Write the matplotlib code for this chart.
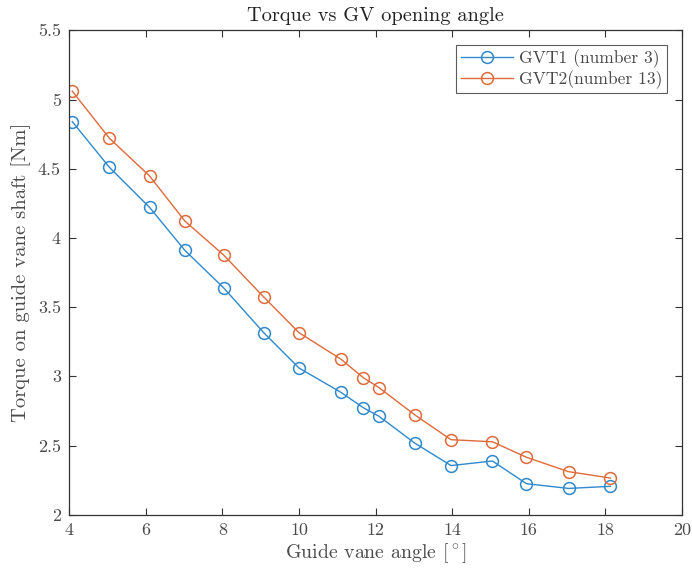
import numpy as np
import matplotlib
matplotlib.use("Agg")
import matplotlib.pyplot as plt

plt.rcParams['font.family'] = 'cmr10'
plt.rcParams['mathtext.fontset'] = 'cm'
plt.rcParams['axes.formatter.use_mathtext'] = True

# guide vane angle [deg] and shaft torque [Nm]
angle = [4.08, 5.05, 6.1, 7.02, 8.03, 9.08, 10.0, 11.09, 11.68, 12.09,
         13.03, 13.97, 15.05, 15.94, 17.04, 18.13]
torque_gvt1 = [4.84, 4.51, 4.22, 3.91, 3.64, 3.315, 3.06, 2.885, 2.773, 2.711,
               2.516, 2.355, 2.388, 2.224, 2.19, 2.205]
torque_gvt2 = [5.06, 4.72, 4.447, 4.122, 3.877, 3.573, 3.315, 3.125, 2.99, 2.918,
               2.72, 2.542, 2.527, 2.415, 2.311, 2.265]

xticks = [4, 6, 8, 10, 12, 14, 16, 18, 20]
yticks = [2, 2.5, 3, 3.5, 4, 4.5, 5, 5.5]
ytick_labels = ['2', '2.5', '3', '3.5', '4', '4.5', '5', '5.5']

blue = '#2f89cc'
orange = '#df6a3a'
dark = '#333333'
grey = '#4a4a4a'

fig = plt.figure(figsize=(6.92, 5.74), dpi=100)
ax = fig.add_axes([0.1, 0.1033, 0.8855, 0.8439])

ax.plot(angle, torque_gvt1, '-o', color=blue, lw=1.0, ms=8.5,
        mfc='none', mew=1.1, label='GVT1 (number 3)')
ax.plot(angle, torque_gvt2, '-o', color=orange, lw=1.0, ms=8.5,
        mfc='none', mew=1.1, label='GVT2(number 13)')

ax.set_xlim(4, 20)
ax.set_ylim(2, 5.5)
ax.set_xticks(xticks)
ax.set_xticklabels([str(t) for t in xticks])
ax.set_yticks(yticks)
ax.set_yticklabels(ytick_labels)

ax.tick_params(direction='in', length=5, width=0.8, top=True, right=True,
               labelsize=13, colors=dark, labelcolor=grey, pad=6)
for s in ax.spines.values():
    s.set_color(dark)
    s.set_linewidth(0.9)

ax.set_title('Torque vs GV opening angle', fontsize=14.7, color='#222222', pad=7)
ax.set_xlabel(r'Guide vane angle [$^\circ$]', fontsize=14.3, color=grey, labelpad=2)
ax.set_ylabel('Torque on guide vane shaft [Nm]', fontsize=14.8, color=grey, labelpad=5)

leg = ax.legend(loc='upper right', fontsize=12.6, frameon=True, fancybox=False,
                edgecolor=dark, borderpad=0.25, labelspacing=0.1,
                handlelength=3.0, handletextpad=0.35, borderaxespad=0.85)
leg.get_frame().set_linewidth(0.8)
for t in leg.get_texts():
    t.set_color(grey)

fig.savefig('out.png', dpi=100)
